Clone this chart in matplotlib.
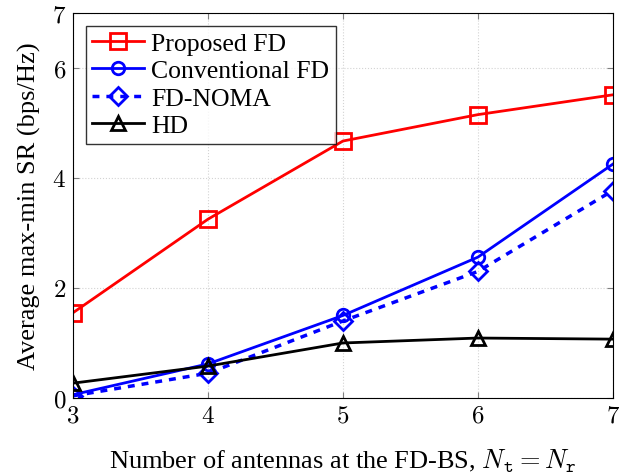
import matplotlib
matplotlib.use("Agg")
import matplotlib.pyplot as plt

plt.rcParams['font.family'] = ['Liberation Serif', 'DejaVu Serif']
plt.rcParams['mathtext.fontset'] = 'cm'

n_antennas = [3, 4, 5, 6, 7]
proposed_fd = [1.55, 3.25, 4.67, 5.15, 5.51]
conventional_fd = [0.06, 0.62, 1.50, 2.56, 4.25]
fd_noma = [0.04, 0.45, 1.40, 2.30, 3.77]
hd = [0.27, 0.58, 1.00, 1.09, 1.07]

x_ticks = [3, 4, 5, 6, 7]
y_ticks = [0, 2, 4, 6, 7]

fig = plt.figure(figsize=(6.19, 4.77), dpi=100)
ax = fig.add_axes([0.118, 0.1635, 0.872, 0.8075])

ax.plot(n_antennas, proposed_fd, color='red', lw=2, marker='s', ms=11,
        mfc='none', mew=2, label='Proposed FD')
ax.plot(n_antennas, conventional_fd, color='blue', lw=2, marker='o', ms=9,
        mfc='none', mew=2, label='Conventional FD')
ax.plot(n_antennas, fd_noma, color='blue', lw=2.5, ls=(0, (2, 2)), marker='D', ms=9.5,
        mfc='none', mew=2, label='FD-NOMA')
ax.plot(n_antennas, hd, color='black', lw=2, marker='^', ms=10,
        mfc='none', mew=2, label='HD')

ax.set_xlim(3, 7)
ax.set_ylim(0, 7)
ax.set_xticks(x_ticks)
ax.set_yticks(y_ticks)
ax.set_xticklabels([f'${t}$' for t in x_ticks], fontsize=18)
ax.set_yticklabels([f'${t}$' for t in y_ticks], fontsize=18)
ax.tick_params(direction='in', color='gray', length=4, top=True, right=True, pad=5)
ax.grid(True, ls=':', color='lightgray', lw=0.8)

ax.set_xlabel(r'Number of antennas at the FD-BS, $N_{\mathtt{t}} = N_{\mathtt{r}}$',
              fontsize=19, labelpad=14)
ax.set_ylabel('Average max-min SR (bps/Hz)', fontsize=19, labelpad=8)

leg = ax.legend(loc='upper left', fontsize=18.5, frameon=True, fancybox=False,
                edgecolor='black', borderpad=0.25, labelspacing=0.17,
                handlelength=2.0, handletextpad=0.3, borderaxespad=0.5)
leg.get_frame().set_linewidth(1)

fig.savefig('out.png', dpi=100)
